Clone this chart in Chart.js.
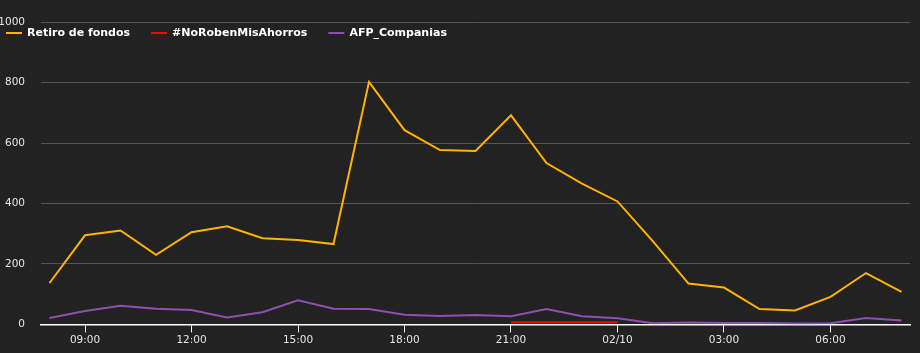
<!DOCTYPE html>
<html>
<head>
<meta charset="utf-8">
<script src="https://cdn.jsdelivr.net/npm/chart.js@4.4.0/dist/chart.umd.min.js"></script>
<style>
html,body{margin:0;padding:0;background:#222222;}
#wrap{position:relative;width:920px;height:353px;}
</style>
</head>
<body>
<div id="wrap"><canvas id="c" width="920" height="353"></canvas></div>
<script>
// Hours since 08:00 (day 1) for each sample
const hours = [0,1,2,3,4,5,6,7,8,9,10,11,12,13,14,15,16,17,18,19,20,21,22,23,24];
const retiroDeFondos = [137,295,311,230,305,325,285,279,266,803,643,577,574,692,534,466,407,275,135,122,51,46,91,170,108];
const noRobenMisAhorros = [null,null,null,null,null,null,null,null,null,null,null,null,null,7,7,7,7,null,null,null,null,null,null,null,null];
const afpCompanias = [21,44,62,52,48,23,40,80,52,51,32,28,31,27,51,27,20,4,6,5,5,3,4,21,13];
const tickHours = [1,4,7,10,13,16,19,22];
const tickLabels = ['09:00','12:00','15:00','18:00','21:00','02/10','03:00','06:00'];
const yTicks = [0,200,400,600,800,1000];

const seriesNames = ['Retiro de fondos','#NoRobenMisAhorros','AFP_Companias'];
const seriesColors = ['#FFB300','#FF0000','#8E4FB0'];
const seriesValues = [retiroDeFondos, noRobenMisAhorros, afpCompanias];

const datasets = seriesNames.map((name,i)=>({
  label: name,
  data: hours.map((h,j)=>({x:h, y:seriesValues[i][j]})),
  borderColor: seriesColors[i],
  backgroundColor: seriesColors[i],
  borderWidth: 2,
  pointRadius: 0,
  pointHoverRadius: 0,
  tension: 0,
  spanGaps: false,
  fill: false
}));

const overlayLegend = {
  id: 'overlayLegend',
  afterDraw(chart){
    const ctx = chart.ctx;
    ctx.save();
    ctx.font = 'bold 11px "DejaVu Sans", sans-serif';
    ctx.textBaseline = 'middle';
    let x = 6;
    const y = 33;
    chart.data.datasets.forEach(ds=>{
      ctx.strokeStyle = ds.borderColor;
      ctx.lineWidth = 2;
      ctx.beginPath();
      ctx.moveTo(x, y);
      ctx.lineTo(x+16, y);
      ctx.stroke();
      ctx.fillStyle = '#ffffff';
      ctx.fillText(ds.label, x+21, y+0.5);
      x += 21 + ctx.measureText(ds.label).width + 21;
    });
    ctx.restore();
  }
};

new Chart(document.getElementById('c'), {
  type: 'line',
  data: { datasets },
  plugins: [overlayLegend],
  options: {
    responsive: false,
    animation: false,
    events: [],
    layout: { padding: { top: 9, right: 10, left: 0, bottom: 4 } },
    plugins: { legend: { display: false }, tooltip: { enabled: false } },
    scales: {
      x: {
        type: 'linear',
        min: -0.24,
        max: 24.24,
        afterBuildTicks(axis){ axis.ticks = tickHours.map(v=>({value:v})); },
        ticks: {
          color: '#e6e6e6',
          font: { family: 'DejaVu Sans', size: 10.5 },
          padding: 2,
          maxRotation: 0,
          autoSkip: false,
          callback(v){ const k = tickHours.indexOf(v); return k>=0 ? tickLabels[k] : ''; }
        },
        grid: { drawOnChartArea: false, drawTicks: true, tickLength: 8, color: '#ffffff', lineWidth: 1 },
        border: { display: true, color: '#ffffff', width: 1.5 }
      },
      y: {
        min: 0,
        max: 1000,
        afterBuildTicks(axis){ axis.ticks = yTicks.map(v=>({value:v})); },
        afterFit(axis){ axis.width = 41; },
        ticks: {
          color: '#e6e6e6',
          font: { family: 'DejaVu Sans', size: 10.5 },
          padding: 16,
          callback(v){ return String(v); }
        },
        grid: { color: '#555555', lineWidth: 1, drawTicks: false },
        border: { display: false }
      }
    }
  }
});
</script>
</body>
</html>
